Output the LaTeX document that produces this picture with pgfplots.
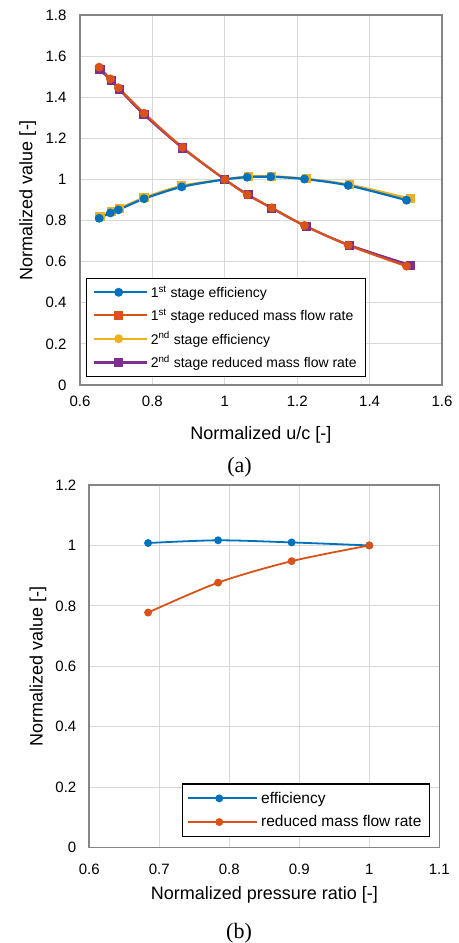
\documentclass[border=0pt]{standalone}
\usepackage{fontspec}
\setmainfont{Liberation Sans}
\newfontfamily\capfont{Liberation Serif}
\usepackage{pgfplots}
\pgfplotsset{compat=1.18}
\definecolor{cblue}{RGB}{0,114,189}
\definecolor{corange}{RGB}{217,83,25}
\definecolor{cyellow}{RGB}{237,177,32}
\definecolor{cpurple}{RGB}{126,47,142}
\definecolor{axgray}{RGB}{134,134,134}
\definecolor{gridgray}{RGB}{217,217,217}
\pgfplotsset{
  common/.style={
    scale only axis, anchor=south west,
    axis line style={draw=axgray, line width=1.6bp},
    grid=major, grid style={draw=gridgray, line width=1.1bp},
    major tick length=0pt,
    tick label style={font=\fontsize{15bp}{18bp}\selectfont},
    label style={font=\fontsize{18bp}{21bp}\selectfont},
    /pgf/number format/assume math mode=true,
    legend cell align=left,
  },
  imgA/.style={legend image code/.code={\draw[mark repeat=2,mark phase=2,##1] plot coordinates {(0bp,0bp) (24bp,0bp) (48bp,0bp)}; \path (-1bp,0bp) -- (52bp,0bp);}},
  imgB/.style={legend image code/.code={\draw[mark repeat=2,mark phase=2,##1] plot coordinates {(0bp,0bp) (30bp,0bp) (60bp,0bp)}; \path (-1bp,0bp) -- (68bp,0bp);}},
}
\begin{document}
\begin{tikzpicture}
\path[use as bounding box] (0,0) rectangle (459bp,943bp);
% ---------------- (a)
\begin{axis}[common, imgA,
  at={(80bp,558bp)}, width=362bp, height=370bp,
  xmin=0.6, xmax=1.6, ymin=0, ymax=1.8,
  xtick={0.6,0.8,1,1.2,1.4,1.6},
  ytick={0,0.2,0.4,0.6,0.8,1,1.2,1.4,1.6,1.8},
  yticklabel style={xshift=-10bp},
  xticklabel style={yshift=-8bp},
  xlabel={Normalized u/c [-]}, ylabel={Normalized value [-]},
  xlabel style={at={(axis description cs:0.5,-0.1486)}, anchor=base},
  ylabel style={at={(axis description cs:-0.1318,0.5)}, anchor=base},
  legend style={at={(0.0166,0.0216)}, anchor=south west,
    font=\fontsize{14bp}{16bp}\selectfont, draw=black, line width=1.1bp,
    row sep=4bp, inner xsep=6bp, inner ysep=4bp, nodes={inner sep=3bp}},
]
\addplot[cyellow, line width=2.2bp, smooth, mark=square*, mark size=3.5bp, forget plot] coordinates {
 (0.655,0.819) (0.688,0.844) (0.709,0.859) (0.777,0.911) (0.881,0.969) (1.0,1.0) (1.065,1.015) (1.13,1.016) (1.225,1.003) (1.345,0.974) (1.513,0.906)};
\addplot[cpurple, line width=2.2bp, smooth, mark=square*, mark size=3.5bp, forget plot] coordinates {
 (0.655,1.533) (0.686,1.481) (0.709,1.437) (0.777,1.315) (0.883,1.153) (1.0,1.0) (1.065,0.925) (1.13,0.86) (1.225,0.771) (1.345,0.68) (1.513,0.583)};
\addplot[cblue, line width=2.2bp, smooth, mark=*, mark size=3.3bp, forget plot] coordinates {
 (0.653,0.811) (0.684,0.837) (0.706,0.852) (0.777,0.906) (0.881,0.964) (1.0,1.0) (1.062,1.011) (1.127,1.013) (1.22,1.002) (1.341,0.971) (1.502,0.899)};
\addplot[corange, line width=2.2bp, smooth, mark=*, mark size=3.3bp, forget plot] coordinates {
 (0.653,1.546) (0.684,1.489) (0.706,1.446) (0.777,1.322) (0.883,1.156) (1.0,1.0) (1.062,0.925) (1.13,0.862) (1.22,0.776) (1.341,0.68) (1.502,0.578)};
\addlegendimage{cblue, line width=2.2bp, mark=*, mark size=3.3bp}
\addlegendentry{1\textsuperscript{st} stage efficiency}
\addlegendimage{corange, line width=2.2bp, mark=square*, mark size=3.5bp}
\addlegendentry{1\textsuperscript{st} stage reduced mass flow rate}
\addlegendimage{cyellow, line width=2.2bp, mark=*, mark size=3.3bp}
\addlegendentry{2\textsuperscript{nd} stage efficiency}
\addlegendimage{cpurple, line width=2.2bp, mark=square*, mark size=3.5bp}
\addlegendentry{2\textsuperscript{nd} stage reduced mass flow rate}
\end{axis}
\node[font=\capfont\fontsize{22bp}{26bp}\selectfont, anchor=base] at (239.5bp,470bp) {(a)};
% ---------------- (b)
\begin{axis}[common, imgB,
  at={(89.3bp,95.3bp)}, width=350bp, height=362.7bp,
  xmin=0.6, xmax=1.1, ymin=0, ymax=1.2,
  xtick={0.6,0.7,0.8,0.9,1,1.1},
  ytick={0,0.2,0.4,0.6,0.8,1,1.2},
  yticklabel style={xshift=-9.5bp},
  xticklabel style={yshift=-13bp},
  xlabel={Normalized pressure ratio [-]}, ylabel={Normalized value [-]},
  xlabel style={at={(axis description cs:0.5,-0.144)}, anchor=base},
  ylabel style={at={(axis description cs:-0.1331,0.5)}, anchor=base},
  legend style={at={(0.9734,0.0295)}, anchor=south east,
    font=\fontsize{15.5bp}{18bp}\selectfont, draw=black, line width=1.1bp,
    row sep=5bp, inner xsep=5bp, inner ysep=5bp, nodes={inner sep=3bp}},
]
\addplot[cblue, line width=1.8bp, smooth, mark=*, mark size=3bp] coordinates {
 (0.684,1.008) (0.784,1.017) (0.889,1.010) (1.0,1.0)};
\addlegendentry{efficiency}
\addplot[corange, line width=1.8bp, smooth, mark=*, mark size=3bp] coordinates {
 (0.684,0.778) (0.784,0.877) (0.889,0.948) (1.0,1.0)};
\addlegendentry{reduced mass flow rate}
\end{axis}
\node[font=\capfont\fontsize{22bp}{26bp}\selectfont, anchor=base] at (239bp,5bp) {(b)};
\end{tikzpicture}
\end{document}
